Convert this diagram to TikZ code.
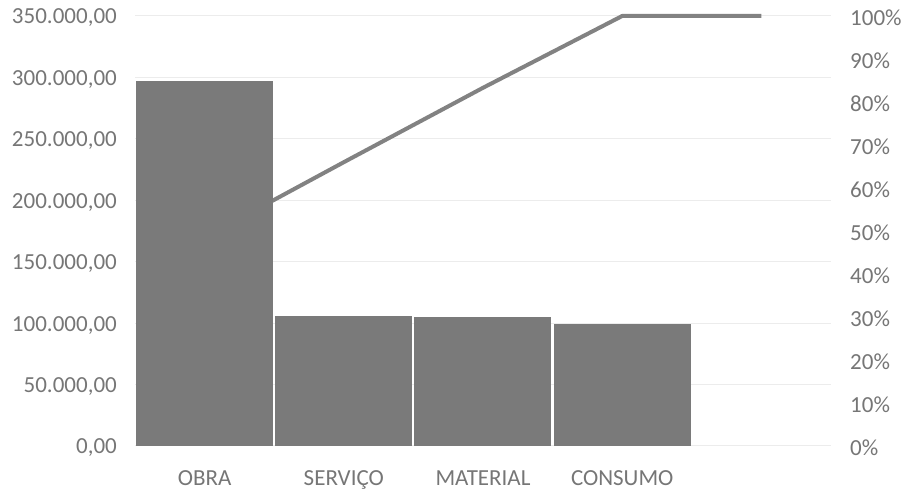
\documentclass[tikz,border=0pt]{standalone}
\usepackage{fontspec}
\setmainfont{Carlito}
\definecolor{bargray}{RGB}{122,122,122}
\definecolor{linegray}{RGB}{130,130,130}
\definecolor{txtgray}{RGB}{118,118,118}
\definecolor{gridgray}{RGB}{236,236,236}
\tikzset{lbl/.style={text=txtgray,font=\fontsize{23}{27}\selectfont,inner sep=0pt}}
\begin{document}
\begin{tikzpicture}[x=1pt,y=1pt]
\useasboundingbox (-135,-51) rectangle (770,446);
\foreach \k in {0,...,7} \draw[gridgray,line width=1pt](0,\k*61.43)--(696,\k*61.43);
\foreach \v/\t in {0/{0,00},1/{50.000,00},2/{100.000,00},3/{150.000,00},4/{200.000,00},5/{250.000,00},6/{300.000,00},7/{350.000,00}}
  \node[lbl,anchor=east](left\v) at (-18,\v*61.43-2){\t};
\foreach \p in {0,10,...,100} \node[lbl,anchor=west](right\p) at (715,\p*4.3-2){\p\%};
% cumulative line
\foreach \c/\p [count=\i from 0] in {p0/48.5,p1/66,p2/83.3,p3/100,p4/100}
  \coordinate (\c) at (\i*139.2+69.6,\p*4.3);
\draw[linegray,line width=4pt,line join=round](p0)--(p1)--(p2)--(p3)--(p4);
% bars
\foreach \n/\h/\t [count=\i from 0] in {obra/365/OBRA,servico/130.3/SERVIÇO,material/128.7/MATERIAL,consumo/122/CONSUMO}{
  \fill[bargray](\i*139.2+1,0)coordinate(\n)rectangle++(137,\h);
  \node[lbl,anchor=base](\n-label) at (\i*139.2+69.6,-39.5){\t};
}
\end{tikzpicture}
\end{document}
